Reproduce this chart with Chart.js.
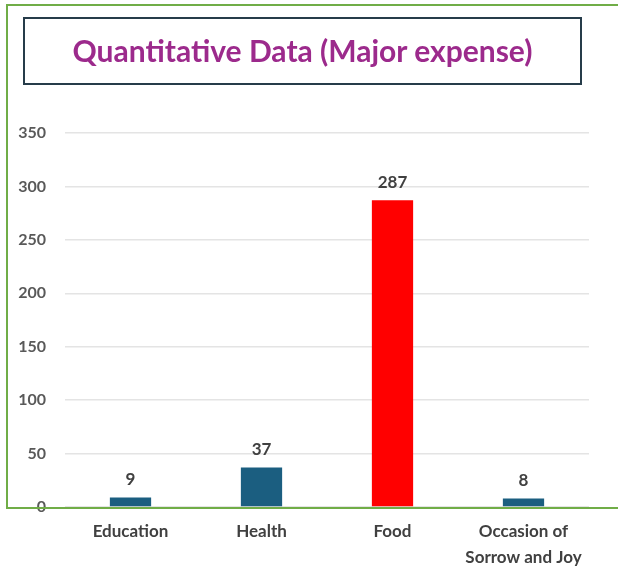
<!DOCTYPE html>
<html>
<head>
<meta charset="utf-8">
<script src="https://cdn.jsdelivr.net/npm/chart.js@4"></script>
<style>
  html, body { margin: 0; padding: 0; background: #ffffff; }
  #wrap { position: relative; width: 618px; height: 566px; }
  #title {
    position: absolute; left: 23px; top: 17px; width: 559px; height: 68px;
    box-sizing: border-box; border: 2px solid #263c4a;
    display: flex; align-items: center; justify-content: center;
    font-family: Lato, "Open Sans", sans-serif; font-weight: bold; font-size: 30px;
    color: #9c2a8c; padding-bottom: 2px;
  }
  canvas { position: absolute; left: 0; top: 0; }
</style>
</head>
<body>
<div id="wrap">
  <canvas id="c" width="618" height="566"></canvas>
  <div id="title">Quantitative Data (Major expense)</div>
</div>
<script>
const categories = ["Education", "Health", "Food", ["Occasion of", "Sorrow and Joy"]];
const expenseValues = [9, 37, 287, 8];
const barColors = ["#1b5e80", "#1b5e80", "#ff0000", "#1b5e80"];
const yMin = 0, yMax = 350, yStep = 50;

const FONT = "Lato, 'Open Sans', sans-serif";

const frameAndLabels = {
  id: 'frameAndLabels',
  afterDatasetsDraw(chart) {
    const ctx = chart.ctx;
    const meta = chart.getDatasetMeta(0);
    ctx.save();
    ctx.font = "bold 17px " + FONT;
    ctx.fillStyle = "#404040";
    ctx.textAlign = "center";
    ctx.textBaseline = "alphabetic";
    meta.data.forEach((bar, i) => {
      ctx.fillText(String(chart.data.datasets[0].data[i]), bar.x, bar.y - 12);
    });
    ctx.restore();
  },
  afterDraw(chart) {
    const ctx = chart.ctx;
    const y0 = Math.round(chart.scales.y.getPixelForValue(0)) + 1;
    ctx.save();
    ctx.strokeStyle = "#70ad47";
    ctx.lineWidth = 2;
    ctx.beginPath();
    ctx.moveTo(620, 5);
    ctx.lineTo(7, 5);
    ctx.lineTo(7, y0);
    ctx.lineTo(620, y0);
    ctx.stroke();
    ctx.restore();
  }
};

new Chart(document.getElementById('c'), {
  type: 'bar',
  data: {
    labels: categories,
    datasets: [{
      data: expenseValues,
      backgroundColor: barColors,
      borderWidth: 0,
      categoryPercentage: 1,
      barPercentage: 0.315
    }]
  },
  options: {
    responsive: false,
    animation: false,
    devicePixelRatio: 1,
    layout: { padding: { left: 0, right: 29, top: 133, bottom: 0 } },
    plugins: { legend: { display: false }, tooltip: { enabled: false }, title: { display: false } },
    scales: {
      y: {
        min: yMin, max: yMax,
        ticks: { stepSize: yStep, padding: 19, color: "#595959", font: { family: FONT, weight: 'bold', size: 16 } },
        grid: { color: "#e4e4e4", lineWidth: 1.5, drawTicks: false },
        border: { display: false },
        afterFit(s) { s.width = 65; }
      },
      x: {
        ticks: { padding: 12, color: "#404040", font: { family: FONT, weight: 'bold', size: 17, lineHeight: 1.5 } },
        grid: { display: false, drawTicks: false },
        border: { display: false },
        afterFit(s) { s.height = 59; }
      }
    }
  },
  plugins: [frameAndLabels]
});
</script>
</body>
</html>
